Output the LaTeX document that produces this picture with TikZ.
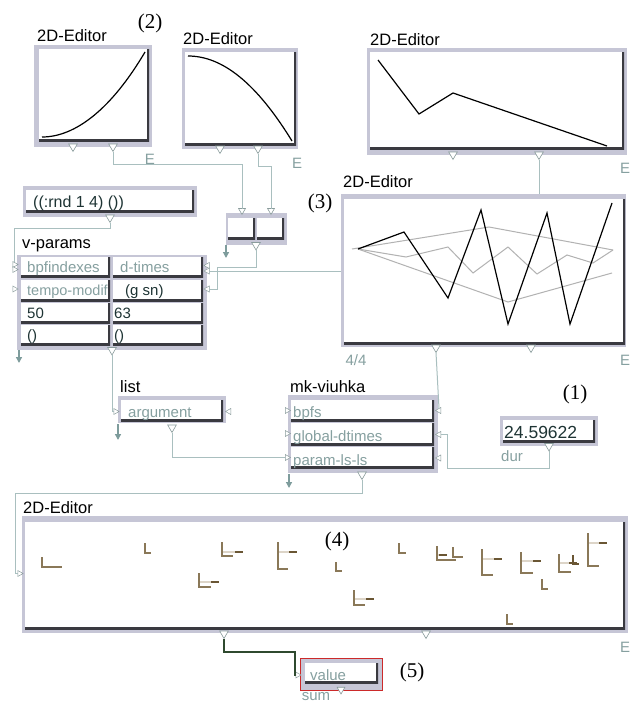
\documentclass[tikz,border=0pt]{standalone}
\usepackage{fontspec}
\setmainfont{Liberation Sans}
\newfontfamily\tagfont{Liberation Serif}
\usetikzlibrary{arrows.meta,shapes.geometric}

\definecolor{boxgray}{HTML}{C6C6D6}
\definecolor{shd}{HTML}{3A3A40}
\definecolor{wirec}{HTML}{A9BFBF}
\definecolor{portc}{HTML}{8A9C9C}
\definecolor{dimtext}{HTML}{86A0A0}
\definecolor{celltext}{HTML}{1E3434}
\definecolor{stubc}{HTML}{7E9C9C}
\definecolor{markc}{HTML}{8A7858}
\definecolor{markdk}{HTML}{6A5634}
\definecolor{marklt}{HTML}{DDD5C8}
\definecolor{grwire}{HTML}{2F4A2F}
\definecolor{redline}{HTML}{CC2A2A}

\begin{document}
\begin{tikzpicture}[
  x=1pt, y=-1pt,
  boxframe/.style={fill=boxgray, inner sep=0pt, outer sep=0pt, anchor=north west},
  pane/.style={fill=white, inner sep=0pt, outer sep=0pt, anchor=north west,
    path picture={\draw[shd, line width=4.5pt] (path picture bounding box.south west) -- (path picture bounding box.south east) -- (path picture bounding box.north east);}},
  ttl/.style={anchor=base west, inner sep=0pt, font=\fontsize{16.5}{18}\selectfont},
  txt/.style={anchor=base west, inner sep=0pt, text=celltext, font=\fontsize{15}{17}\selectfont},
  dimtxt/.style={txt, text=dimtext},
  tagtxt/.style={inner sep=0pt, font=\tagfont\fontsize{21}{23}\selectfont},
  outp/.style={regular polygon, regular polygon sides=3, shape border rotate=180, draw=portc, fill=white, line width=0.6pt, inner sep=0pt, outer sep=0pt, minimum size=10pt},
  inr/.style={outp, shape border rotate=-90, minimum size=7pt, line width=0.5pt},
  inl/.style={outp, shape border rotate=90, minimum size=7pt, line width=0.5pt},
  wireln/.style={draw=wirec, line width=1pt},
  stub/.style={draw=stubc, line width=1.3pt, -{Triangle[width=6pt,length=6pt]}},
  curve/.style={line width=1.2pt, black},
  ghost/.style={line width=1pt, black!30},
  lmark/.style={markc, line width=1.6pt},
]
\fill[white] (0,0) rectangle (634,704);
\useasboundingbox (0,0) rectangle (634,704);

% --- editor 1
\node[boxframe, minimum width=118pt, minimum height=102pt] (e1f) at (34,45) {};
\node[pane, minimum width=110pt, minimum height=92pt] (e1p) at (39,49) {};
\node[ttl] (e1t) at (37,41) {2D-Editor};
\draw[curve] (42,137) .. controls (76,137) and (112,108) .. (145,52);
\node[outp] (e1o1) at (73,146.5) {};
\node[outp] (e1o2) at (113,146.5) {};
\node[dimtxt, anchor=center] (e1e) at (150,159) {E};
\node[tagtxt] (tag2) at (150,23) {(2)};

% --- editor 2
\node[boxframe, minimum width=116pt, minimum height=101pt] (e2f) at (182,48) {};
\node[pane, minimum width=111pt, minimum height=93pt] (e2p) at (185,52) {};
\node[ttl] (e2t) at (183,44) {2D-Editor};
\draw[curve] (188,56) .. controls (223,56) and (257,84) .. (292,141);
\node[outp] (e2o1) at (220,148.5) {};
\node[outp] (e2o2) at (258,148.5) {};
\node[dimtxt, anchor=center] (e2e) at (297,163) {E};

% --- editor 3
\node[boxframe, minimum width=260pt, minimum height=107pt] (e3f) at (367,48) {};
\node[pane, minimum width=254pt, minimum height=97pt] (e3p) at (370,52) {};
\node[ttl] (e3t) at (370,45) {2D-Editor};
\draw[curve] (378,60) -- (419,114) -- (453,93) -- (607,146);
\node[outp] (e3o1) at (453,154.5) {};
\node[outp] (e3o2) at (539,154.5) {};
\node[dimtxt, anchor=center] (e3e) at (625,168) {E};

% --- editor 4 (bpf-lib)
\node[boxframe, minimum width=285pt, minimum height=153pt] (e4f) at (341,194) {};
\node[pane, minimum width=281pt, minimum height=145pt] (e4p) at (344,199) {};
\node[ttl] (e4t) at (343,187) {2D-Editor};
\draw[ghost] (352,249) -- (489,227) -- (613,250);
\draw[ghost] (358,249) -- (406,257) -- (448,247) -- (473,273) -- (508,247) -- (537,274) -- (567,255) -- (593,263) -- (613,250);
\draw[ghost] (358,249) -- (508,302) -- (612,273);
\draw[curve] (358,249) -- (404,232) -- (448,298) -- (481,210) -- (508,324) -- (547,213) -- (570,324) -- (612,203);
\node[outp] (e4o1) at (436,347.5) {};
\node[outp] (e4o2) at (531,347.5) {};
\node[dimtxt, anchor=center] (e4n) at (356,360) {4/4};
\node[dimtxt, anchor=center] (e4e) at (625,360) {E};
\node[tagtxt] (tag3) at (320,203) {(3)};

% --- random box
\node[boxframe, minimum width=174pt, minimum height=31pt] (rndf) at (23,186) {};
\node[pane, minimum width=168pt, minimum height=22pt] (rndc) at (26,190) {};
\node[txt, font=\fontsize{16}{18}\selectfont] (rndt) at (33,207) {((:rnd 1 4) ())};
\node[outp] (rndo) at (110,217.5) {};

% --- small list box
\node[boxframe, minimum width=61pt, minimum height=32pt] (sbf) at (226,213) {};
\node[pane, minimum width=27pt, minimum height=21pt] (sbc1) at (228,218) {};
\node[pane, minimum width=27pt, minimum height=21pt] (sbc2) at (257,218) {};
\node[outp, minimum size=8pt] (sbi1) at (242,210.5) {};
\node[outp, minimum size=8pt] (sbi2) at (271,210.5) {};
\node[outp] (sbo) at (256,245) {};

% --- v-params
\node[ttl] (vpt) at (22,248) {v-params};
\node[boxframe, minimum width=190pt, minimum height=95pt] (vpf) at (17,255) {};
\node[pane, minimum width=89pt, minimum height=20pt] (vp11) at (21,257) {};
\node[pane, minimum width=90pt, minimum height=20pt] (vp12) at (113,257) {};
\node[pane, minimum width=89pt, minimum height=21pt] (vp21) at (21,280) {};
\node[pane, minimum width=90pt, minimum height=21pt] (vp22) at (113,280) {};
\node[pane, minimum width=89pt, minimum height=20pt] (vp31) at (21,303) {};
\node[pane, minimum width=90pt, minimum height=20pt] (vp32) at (113,303) {};
\node[pane, minimum width=89pt, minimum height=20pt] (vp41) at (21,325) {};
\node[pane, minimum width=90pt, minimum height=20pt] (vp42) at (113,325) {};
\node[dimtxt] (vpx11) at (27,272) {bpfindexes};
\node[dimtxt] (vpx12) at (120,272) {d-times};
\node[dimtxt, font=\fontsize{14.5}{17}\selectfont] (vpx21) at (27,295) {tempo-modif};
\node[txt] (vpx22) at (125,295) {(g sn)};
\node[txt] (vpx31) at (27,318) {50};
\node[txt] (vpx32) at (114,318) {63};
\node[txt] (vpx41) at (27,340) {()};
\node[txt] (vpx42) at (114,340) {()};
\node[inr] (vpl1a) at (14.5,264.5) {};
\node[inr] (vpl1b) at (14.5,269.5) {};
\node[inr] (vpl2) at (14.5,289) {};
\node[inl] (vpr1a) at (207.5,265.5) {};
\node[inl] (vpr1b) at (207.5,271) {};
\node[inl] (vpr2) at (207.5,289) {};
\node[outp] (vpo) at (112,350) {};

% --- list
\node[ttl] (lst) at (120,392) {list};
\node[boxframe, minimum width=108pt, minimum height=27pt] (lsf) at (118,396) {};
\node[pane, minimum width=102pt, minimum height=21pt] (lsc) at (121,400) {};
\node[dimtxt] (lsx) at (128,417) {argument};
\node[inr] (lsl) at (115.5,411.5) {};
\node[inl] (lsr) at (229,411.5) {};
\node[outp] (lso) at (172,427.5) {};

% --- mk-viuhka
\node[ttl] (mkt) at (290,392) {mk-viuhka};
\node[boxframe, minimum width=150pt, minimum height=78pt] (mkf) at (288,395) {};
\node[pane, minimum width=143pt, minimum height=21pt] (mkc1) at (291,400) {};
\node[pane, minimum width=143pt, minimum height=22pt] (mkc2) at (291,423) {};
\node[pane, minimum width=143pt, minimum height=21pt] (mkc3) at (291,447) {};
\node[dimtxt] (mkx1) at (293,417) {bpfs};
\node[dimtxt] (mkx2) at (293,441) {global-dtimes};
\node[dimtxt] (mkx3) at (293,465) {param-ls-ls};
\node[inr] (mkl1) at (287,410.5) {};
\node[inr] (mkl2) at (287,433.5) {};
\node[inr] (mkl3) at (287,457.5) {};
\node[inl] (mkr1) at (439,410.5) {};
\node[inl] (mkr2) at (439,434.5) {};
\node[inl] (mkr3) at (439,458) {};
\node[outp] (mko) at (362,474.5) {};

% --- duration
\node[tagtxt] (tag1) at (575,394) {(1)};
\node[boxframe, minimum width=98pt, minimum height=30pt] (numf) at (500,416) {};
\node[pane, minimum width=92pt, minimum height=22pt] (numc) at (503,420) {};
\node[txt, font=\fontsize{17.5}{19}\selectfont] (numx) at (504,438) {24.59622};
\node[outp] (numo) at (549,446) {};
\node[dimtxt, anchor=center] (numd) at (512,456) {dur};

% --- editor 5 (result)
\node[ttl] (e5t) at (23,513) {2D-Editor};
\node[boxframe, minimum width=606pt, minimum height=117pt] (e5f) at (22,516) {};
\node[pane, minimum width=600pt, minimum height=107pt] (e5p) at (25,522) {};
\node[outp] (e5o1) at (224,633.5) {};
\node[outp] (e5o2) at (426,633.5) {};
\node[inr] (e5l) at (19.5,573.5) {};
\node[dimtxt, anchor=center] (e5e) at (625,647) {E};
\node[tagtxt] (tag4) at (337,541) {(4)};
\foreach \x/\y/\h/\w in {42/557/10/20, 145/543/10/6, 336/562/9/6, 399/543/10/7,
    542/579/10/6, 507/614/10/6, 453/547/10/10}
  \draw[lmark] (\x,\y) -- (\x,\y+\h) -- (\x+\w,\y+\h);
\foreach \x/\y/\h/\w/\m/\n in {222/542/14/11/10/21, 199/573/14/12/9/20, 278/542/27/10/10/19,
    437/546/14/19/9/10, 354/590/15/11/9/20, 482/549/26/11/10/20, 521/552/21/12/9/20,
    559/554/18/12/9/18, 588/533/33/11/10/19}{
  \draw[marklt, line width=1.6pt] (\x,\y+\m) -- (\x+\n,\y+\m);
  \draw[markdk, line width=1.6pt] (\x+\n-8,\y+\m) -- (\x+\n,\y+\m);
  \draw[lmark] (\x,\y) -- (\x,\y+\h) -- (\x+\w,\y+\h);
}
\draw[markdk, line width=1.6pt] (573,555) -- (573,564) -- (579,564);

% --- value box
\node[boxframe, draw=redline, line width=1pt, minimum width=82pt, minimum height=32pt] (valf) at (300,658) {};
\node[pane, minimum width=73pt, minimum height=20pt] (valc) at (305,663) {};
\node[dimtxt] (valx) at (310,680) {value};
\node[inr] (vall) at (297.5,675) {};
\node[outp, minimum size=9pt] (valo) at (341,689.5) {};
\node[dimtxt, anchor=center] (vals) at (316,697) {sum};
\node[tagtxt] (tag5) at (412,672) {(5)};

% --- output stubs
\coordinate (vpd) at (19,350);
\coordinate (sbd) at (226,245);
\coordinate (lsd) at (118,424);
\coordinate (mkd) at (289,474);
\draw[stub] (vpd) -- ++(0,13);
\draw[stub] (sbd) -- ++(0,13);
\draw[stub] (lsd) -- ++(0,16);
\draw[stub] (mkd) -- ++(0,14);

% --- connections
\coordinate (k5) at (217,267);
\coordinate (k10) at (447,468);
\coordinate (k11) at (15,493);
\coordinate (k12) at (295,652);
\draw[wireln] (e1o2.south) -- ++(0,13) -| (sbi1.north);
\draw[wireln] (e2o2.south) -- ++(0,13) -| (sbi2.north);
\draw[wireln] (e3o2.south) -- (e3o2.south |- e4f.north);
\draw[wireln] (rndo.south) -- ++(0,6) -| (vpl1a.north);
\draw[wireln] (sbo.south) |- (k5) |- (vpr2.east);
\draw[wireln] (vpr1b.east) -- (vpr1b.east -| e4f.west);
\draw[wireln] (vpo.south) |- (lsl.west);
\draw[wireln] (lso.south) |- (mkl3.west);
\draw[wireln] (e4o1.south) -- (mkr1.north);
\draw[wireln] (numo.south) |- (k10) |- (mkr2.east);
\draw[wireln] (mko.south) |- (k11) |- (e5l.west);
\draw[grwire, line width=1.8pt] (e5o1.south) |- (k12) |- (vall.west);
\end{tikzpicture}
\end{document}
